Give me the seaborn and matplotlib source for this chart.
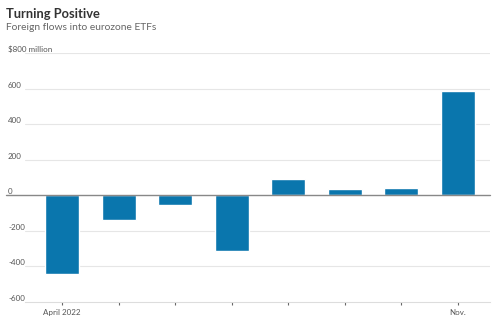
import matplotlib
matplotlib.use("Agg")
import matplotlib.pyplot as plt
import seaborn as sns
import pandas as pd

months = ["Apr", "May", "Jun", "Jul", "Aug", "Sep", "Oct", "Nov"]
flows = [-445, -140, -55, -315, 90, 35, 40, 585]
xlabels = ["April 2022", "", "", "", "", "", "", "Nov."]
yticks = [-600, -400, -200, 0, 200, 400, 600, 800]
ylabels = ["-600", "-400", "-200", "0", "200", "400", "600", "$800 million"]

sns.set_theme(style="white")
plt.rcParams["font.family"] = ["Lato", "DejaVu Sans"]

df = pd.DataFrame({"month": months, "flow": flows})

fig = plt.figure(figsize=(5, 3.24), dpi=100)
ax = fig.add_axes([0.05, 0.068, 0.93, 0.768])

sns.barplot(data=df, x="month", y="flow", color="#0a76ad", saturation=1,
            width=0.6, ax=ax, zorder=3)

ax.set_ylim(-600, 800)
ax.set_xlim(-0.654, 7.567)
ax.set_yticks(yticks)
ax.set_yticklabels(ylabels)
ax.set_xticks(range(len(months)))
ax.set_xticklabels(xlabels)
ax.set_xlabel("")
ax.set_ylabel("")

for y in yticks:
    if y in (0, -600):
        continue
    ax.axhline(y, color="#e6e6e6", lw=0.8, zorder=1)

# zero line extending left
ax.axhline(0, xmin=-0.04, xmax=1.0, color="#888888", lw=1.0, zorder=4, clip_on=False)

for s in ["top", "right", "left"]:
    ax.spines[s].set_visible(False)
ax.spines["bottom"].set_color("#dddddd")
ax.spines["bottom"].set_linewidth(0.8)

ax.tick_params(axis="y", length=0, pad=12.2, labelsize=5.8, labelcolor="#555555")
for lab in ax.get_yticklabels():
    lab.set_ha("left")
    lab.set_va("bottom")
    lab.set_bbox(dict(facecolor="white", edgecolor="none", pad=0.5))
ax.tick_params(axis="x", bottom=True, length=2, width=0.8, color="#666666",
               pad=3, labelsize=5.8, labelcolor="#555555")

fig.text(0.012, 0.958, "Turning Positive", fontsize=9.3, fontweight="bold",
         color="#333333", va="center", ha="left")
fig.text(0.012, 0.914, "Foreign flows into eurozone ETFs", fontsize=7.4,
         color="#666666", va="center", ha="left")

fig.savefig("out.png", dpi=100, facecolor="white")
